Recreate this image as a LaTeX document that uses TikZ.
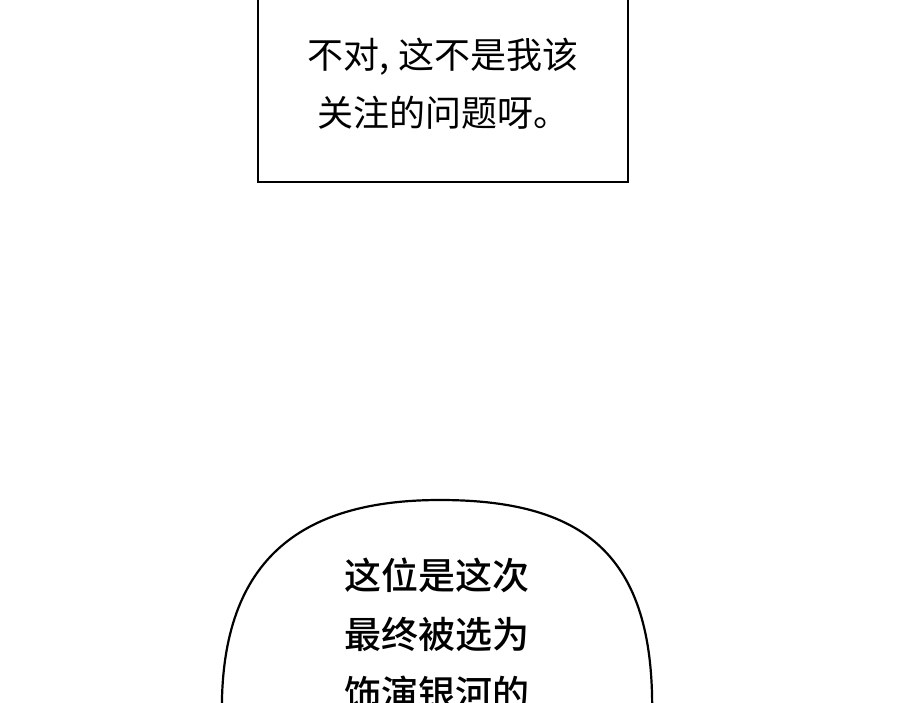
\documentclass[tikz,border=0pt]{standalone}
\usepackage{fontspec}
\newfontfamily\cjk{Noto Sans CJK SC}
\newfontfamily\cjkm{Noto Sans CJK SC Medium}
\begin{document}
\begin{tikzpicture}[x=1pt,y=-1pt,line width=2.2pt,
  txt/.style={font=\cjk\fontsize{36}{58}\selectfont,align=center,inner sep=0pt}]
\useasboundingbox (0,0) rectangle (900,702);
\clip (0,0) rectangle (900,702);
\draw (258,-5) -- (258,182) -- (628,182) -- (628,-5);
\node[txt] (t1) at (443,84) {不对, 这不是我该\\关注的问题呀。};
\draw (222,720) .. controls (218,560) and (300,500) .. (440,500)
      .. controls (590,500) and (656,560) .. (652,720);
\node[txt,font=\cjkm\fontsize{37}{59}\selectfont,anchor=north] (t2) at (437,557) {这位是这次\\最终被选为\\饰演银河的};
\end{tikzpicture}
\end{document}
